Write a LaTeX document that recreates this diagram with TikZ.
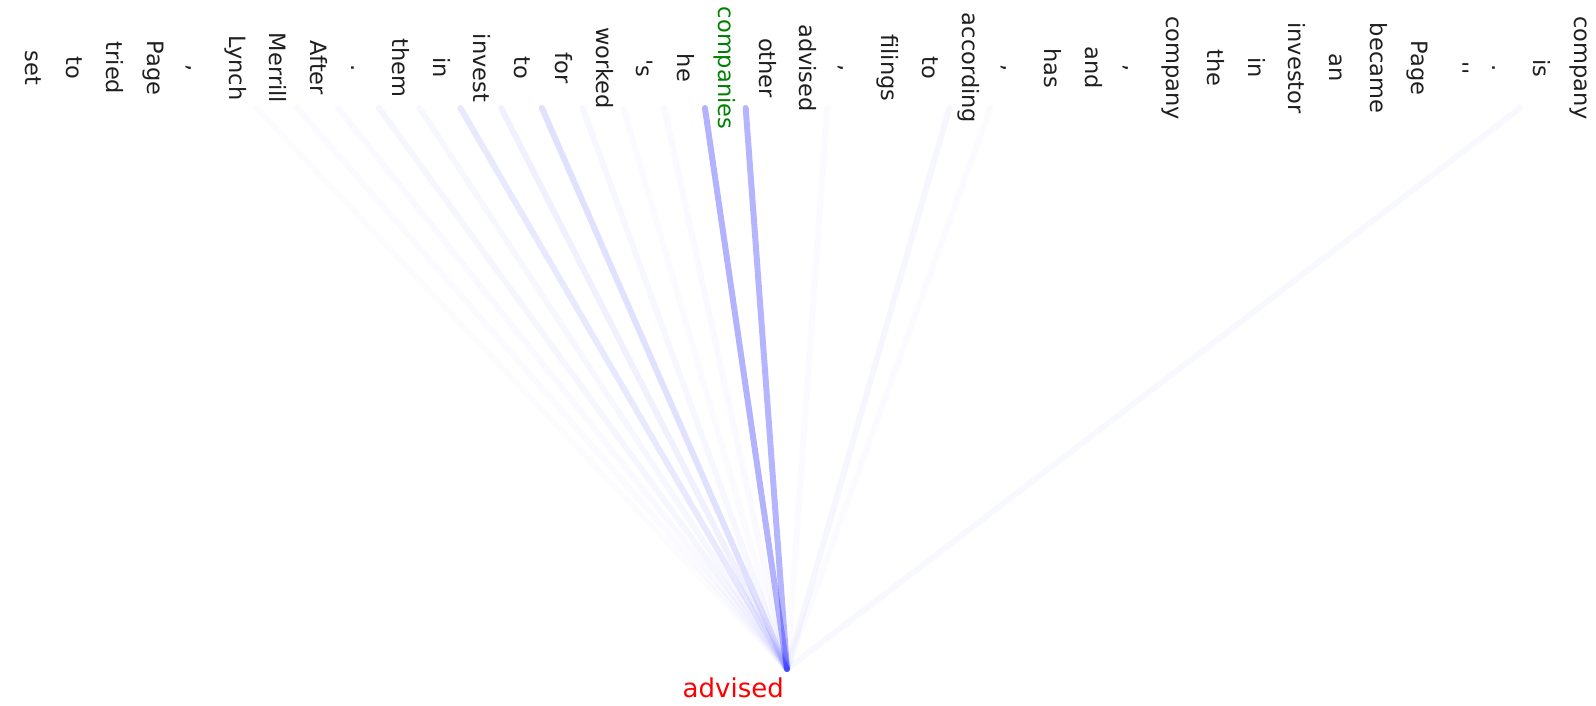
\documentclass[tikz,border=0pt]{standalone}
\usepackage{fontspec}
\setmainfont{DejaVu Sans}[Ligatures=TeXOff]
\begin{document}
\begin{tikzpicture}[x=1pt,y=-1pt]
\tikzset{
  word/.style={rotate=-90, inner sep=0pt, text height=0.76em, text depth=0.24em,
    font=\fontsize{22.5}{27}\selectfont, text=black!88},
  att/.style={line width=6pt, line cap=round, draw=blue},
}
\useasboundingbox (0,0) rectangle (1596,706);
\coordinate (root) at (787,669);
% attention lines
\foreach \i/\a in {6/0.012,7/0.018,8/0.022,9/0.035,10/0.03,11/0.09,12/0.06,13/0.12,14/0.03,15/0.018,16/0.022,17/0.30,18/0.29,20/0.015,23/0.035,24/0.015,37/0.028}{
  \coordinate (t\i) at ({28+40.76*\i-16},108);
  \draw[att, draw opacity=\a] (t\i) -- (root);
}
% words
\node[word] (w0) at ({28+40.76*0},68) {set};
\node[word] (w1) at ({28+40.76*1},68) {to};
\node[word] (w2) at ({28+40.76*2},68) {tried};
\node[word] (w3) at ({28+40.76*3},68) {Page};
\node[word] (w4) at ({28+40.76*4},68) {,};
\node[word] (w5) at ({28+40.76*5},68) {Lynch};
\node[word] (w6) at ({28+40.76*6},68) {Merrill};
\node[word] (w7) at ({28+40.76*7},68) {After};
\node[word] (w8) at ({28+40.76*8},68) {.};
\node[word] (w9) at ({28+40.76*9},68) {them};
\node[word] (w10) at ({28+40.76*10},68) {in};
\node[word] (w11) at ({28+40.76*11},68) {invest};
\node[word] (w12) at ({28+40.76*12},68) {to};
\node[word] (w13) at ({28+40.76*13},68) {for};
\node[word] (w14) at ({28+40.76*14},68) {worked};
\node[word] (w15) at ({28+40.76*15},68) {'s};
\node[word] (w16) at ({28+40.76*16},68) {he};
\node[word, text={rgb,255:red,0;green,128;blue,0}] (w17) at ({28+40.76*17},68) {companies};
\node[word] (w18) at ({28+40.76*18},68) {other};
\node[word] (w19) at ({28+40.76*19},68) {advised};
\node[word] (w20) at ({28+40.76*20},68) {,};
\node[word] (w21) at ({28+40.76*21},68) {filings};
\node[word] (w22) at ({28+40.76*22},68) {to};
\node[word] (w23) at ({28+40.76*23},68) {according};
\node[word] (w24) at ({28+40.76*24},68) {,};
\node[word] (w25) at ({28+40.76*25},68) {has};
\node[word] (w26) at ({28+40.76*26},68) {and};
\node[word] (w27) at ({28+40.76*27},68) {,};
\node[word] (w28) at ({28+40.76*28},68) {company};
\node[word] (w29) at ({28+40.76*29},68) {the};
\node[word] (w30) at ({28+40.76*30},68) {in};
\node[word] (w31) at ({28+40.76*31},68) {investor};
\node[word] (w32) at ({28+40.76*32},68) {an};
\node[word] (w33) at ({28+40.76*33},68) {became};
\node[word] (w34) at ({28+40.76*34},68) {Page};
\node[word] (w35) at ({28+40.76*35},68) {''};
\node[word] (w36) at ({28+40.76*36},68) {.};
\node[word] (w37) at ({28+40.76*37},68) {is};
\node[word] (w38) at ({28+40.76*38},68) {company};
% target label
\node[anchor=base east, inner sep=0pt, text=red, font=\fontsize{26}{31}\selectfont] (lab) at (784,697) {advised};
\end{tikzpicture}
\end{document}
